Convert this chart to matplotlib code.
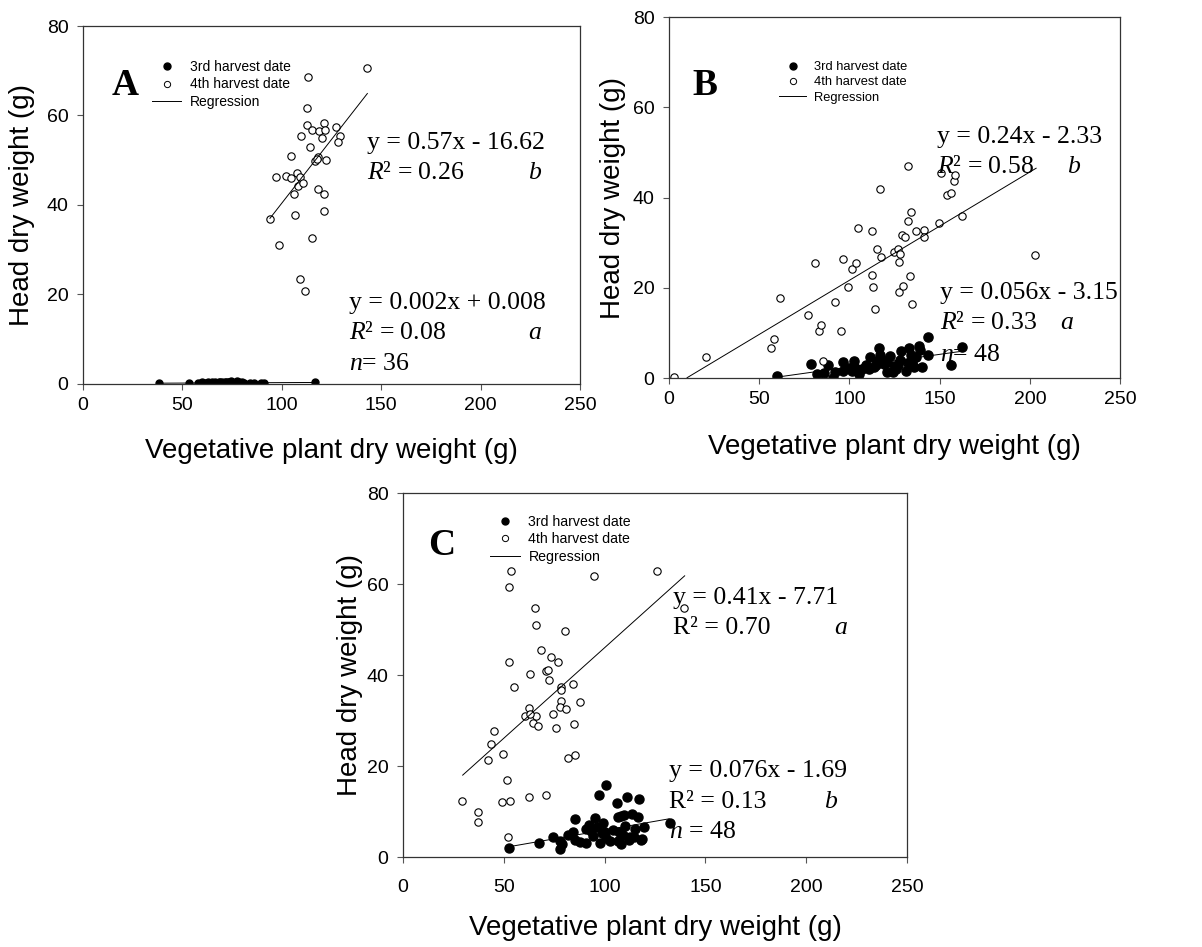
import matplotlib
matplotlib.use("Agg")
import matplotlib.pyplot as plt
from matplotlib.lines import Line2D
from matplotlib.transforms import Bbox

plt.rcParams['font.family'] = ['Liberation Sans', 'DejaVu Sans']
plt.rcParams['mathtext.fontset'] = 'custom'
plt.rcParams['mathtext.rm'] = 'Liberation Serif'
plt.rcParams['mathtext.it'] = 'Liberation Serif:italic'

SERIF = ['Liberation Serif', 'DejaVu Serif']

# ---- panel A data ----
a3_x = [38, 53.5, 58, 59.5, 60, 61, 62, 63, 64, 65, 66, 66.5, 67.5, 68, 68.5, 69, 70,
        70.5, 71.5, 72, 73, 73.5, 74.5, 75, 76, 77, 77.5, 78.5, 79, 80, 81, 84, 86,
        89.5, 91, 116.5]
a3_y = [0.1, 0.15, 0.2, 0.1, 0.3, 0.2, 0.15, 0.25, 0.2, 0.3, 0.1, 0.35, 0.2, 0.15,
        0.3, 0.25, 0.4, 0.2, 0.3, 0.45, 0.25, 0.35, 0.5, 0.3, 0.2, 0.4, 0.6, 0.3, 0.2,
        0.25, 0.15, 0.2, 0.1, 0.2, 0.15, 0.3]
a4_x = [142.7, 113.3, 112.7, 121.1, 112.8, 115.4, 118.9, 121.9, 127.4, 109.5, 120.4,
        129.1, 128.1, 114.0, 104.8, 118.0, 116.9, 122.1, 96.9, 101.9, 107.5, 104.8,
        109.2, 108.3, 106.1, 118.2, 121.4, 94.1, 106.6, 121.4, 115.0, 98.6, 109.0,
        111.7, 117.5, 110.5]
a4_y = [70.6, 68.5, 61.6, 58.4, 57.9, 56.8, 56.6, 56.8, 57.5, 55.3, 55.0, 55.5, 54.1,
        53.0, 50.9, 50.7, 49.8, 50.1, 46.2, 46.4, 47.2, 45.9, 46.3, 44.3, 42.4, 43.6,
        42.4, 36.8, 37.7, 38.6, 32.5, 31.1, 23.5, 20.6, 50.3, 44.8]
a3_fit_x = [38, 117]
a3_fit_y = [0.08, 0.24]
a4_fit_x = [94, 143]
a4_fit_y = [36.96, 64.9]

# ---- panel B data ----
b3_x = [59.6, 78.8, 82.0, 87.9, 90.8, 92.1, 96.6, 96.4, 101.4, 102.8, 105.4, 102.3,
        109.3, 111.4, 110.6, 113.4, 115.2, 116.2, 116.8, 114.7, 117.8, 120.8, 122.3,
        121.1, 124.1, 124.9, 126.7, 128.7, 131.5, 132.3, 133.0, 134.1, 134.9, 138.7,
        139.1, 140.2, 143.8, 143.8, 156.5, 162.4, 135.6, 127.8, 86, 107, 119, 126,
        137, 100]
b3_y = [0.5, 3.2, 0.8, 2.8, 0.1, 1.4, 3.5, 1.5, 1.6, 3.8, 1.0, 2.6, 3.0, 4.7, 1.9,
        2.5, 3.8, 6.6, 5.0, 2.9, 4.0, 3.5, 4.8, 1.4, 1.3, 2.7, 3.0, 6.1, 1.6, 3.4, 6.7,
        5.0, 3.6, 7.2, 6.2, 2.5, 9.2, 5.1, 3.0, 6.8, 2.5, 4.0, 1.2, 2.0, 3.2, 1.9, 4.6,
        2.3]
b4_x = [2.8, 20.7, 56.4, 58.1, 61.4, 76.8, 80.7, 83.4, 84.2, 85.3, 92.1, 95.6, 96.4,
        99.3, 101.6, 103.6, 104.5, 112.3, 112.9, 112.6, 114.3, 115.2, 117.1, 117.5,
        124.9, 127.1, 127.8, 127.4, 127.6, 129.7, 129.3, 130.6, 132.3, 132.6, 133.6,
        134.1, 134.9, 137.1, 141.3, 141.5, 149.7, 154.3, 156.1, 157.8, 158.5, 162.4,
        203.1, 151]
b4_y = [0.2, 4.7, 6.7, 8.6, 17.7, 14.0, 25.6, 10.4, 11.7, 3.8, 16.8, 10.5, 26.4, 20.1,
        24.1, 25.4, 33.2, 22.8, 20.2, 32.6, 15.3, 28.7, 42.0, 26.9, 28.0, 28.7, 27.5,
        25.7, 19.1, 20.5, 31.8, 31.2, 34.8, 47.1, 22.7, 36.9, 16.5, 32.5, 32.8, 31.2,
        34.4, 40.6, 41.1, 43.7, 45.0, 35.8, 27.2, 45.4]
b3_fit_x = [60, 162]
b3_fit_y = [0.21, 5.92]
b4_fit_x = [10, 203.5]
b4_fit_y = [0.07, 46.5]

# ---- panel C data ----
c3_x = [52.7, 67.4, 74.5, 77.8, 77.9, 79.1, 84.4, 85.4, 85.4, 90.7, 91.0, 93.3, 95.1,
        96.3, 97.1, 97.6, 98.5, 100.6, 100.9, 102.6, 105.9, 106.4, 106.4, 106.9, 107.9,
        109.5, 109.2, 111.0, 112.2, 112.8, 113.6, 114.6, 116.6, 117.1, 117.8, 118.6,
        119.4, 132.3, 100.4, 82, 88, 94, 99, 104, 108, 110, 115, 92]
c3_y = [1.9, 3.1, 4.5, 3.5, 1.8, 2.9, 5.4, 8.3, 3.7, 3.1, 6.2, 5.8, 8.6, 6.7, 13.7, 3.0,
        5.3, 15.8, 4.1, 3.5, 11.9, 8.9, 3.5, 5.6, 9.0, 9.2, 4.8, 13.3, 3.7, 4.5, 9.5,
        4.3, 8.7, 12.8, 3.7, 4.0, 6.7, 7.5, 5.6, 4.8, 3.2, 4.6, 7.4, 6.0, 2.9, 6.8, 6.1,
        7.0]
c4_x = [53.4, 52.7, 94.7, 125.9, 139.6, 65.4, 66.1, 80.3, 68.4, 73.3, 76.8, 52.4, 62.9,
        70.9, 71.9, 72.4, 54.8, 78.6, 78.3, 84.2, 78.5, 77.8, 80.9, 87.9, 62.6, 60.3,
        65.8, 64.3, 67.0, 76.0, 84.7, 44.9, 43.8, 49.6, 42.0, 81.9, 85.4, 51.7, 29.3,
        37.0, 37.0, 48.9, 53.0, 62.5, 70.8, 52.0, 74.5, 63.0]
c4_y = [62.9, 59.3, 61.8, 62.9, 54.8, 54.8, 51.1, 49.6, 45.6, 44.0, 42.9, 42.9, 40.3,
        40.8, 41.0, 38.8, 37.4, 37.4, 36.6, 38.1, 34.4, 33.0, 32.6, 34.0, 32.7, 31.0,
        31.1, 29.5, 28.7, 28.4, 29.2, 27.8, 24.9, 22.6, 21.3, 21.8, 22.5, 16.9, 12.4,
        9.8, 7.8, 12.2, 12.4, 13.3, 13.7, 4.3, 31.5, 31.5]
c3_fit_x = [53, 132]
c3_fit_y = [2.3, 8.4]
c4_fit_x = [29.6, 139.7]
c4_fit_y = [18.0, 61.8]

x_ticks = [0, 50, 100, 150, 200, 250]
y_ticks = [0, 20, 40, 60, 80]
legend_labels = ['3rd harvest date', '4th harvest date', 'Regression']


# function to set up the frame, ticks and axis titles of one panel
def style_axes(ax, x_pad, xlab_y, ylab_x):
    ax.set_xlim(0, 250)
    ax.set_ylim(0, 80)
    ax.set_xticks(x_ticks)
    ax.set_yticks(y_ticks)
    for sp in ax.spines.values():
        sp.set_color('#333333')
        sp.set_linewidth(0.9)
    ax.tick_params(direction='out', length=4.5, width=0.8, color='#555555', labelsize=14)
    ax.tick_params(axis='x', pad=x_pad)
    ax.tick_params(axis='y', pad=6)
    ax.set_xlabel('Vegetative plant dry weight (g)', fontsize=20, va='center')
    ax.set_ylabel('Head dry weight (g)', fontsize=20, va='center')
    ax.xaxis.set_label_coords(0.5, xlab_y)
    ax.yaxis.set_label_coords(ylab_x, 0.5)


# function to draw points, fit lines and the legend of one panel
def draw_panel(ax, x3, y3, x4, y4, f3x, f3y, f4x, f4y, ms3, legend_at, legend_fs):
    ax.plot(x3, y3, 'o', color='black', markersize=ms3, linestyle='none')
    ax.plot(x4, y4, 'o', markerfacecolor='white', markeredgecolor='black',
            markeredgewidth=0.8, markersize=5.3, linestyle='none')
    ax.plot(f3x, f3y, color='black', linewidth=0.7)
    ax.plot(f4x, f4y, color='black', linewidth=0.7)
    handles = [Line2D([], [], marker='o', color='black', linestyle='none', markersize=5),
               Line2D([], [], marker='o', markerfacecolor='white', markeredgecolor='black',
                      markeredgewidth=0.7, linestyle='none', markersize=4.5),
               Line2D([], [], color='black', linewidth=0.7)]
    ax.legend(handles, legend_labels, loc='upper left', bbox_to_anchor=legend_at,
              frameon=False, fontsize=legend_fs, borderpad=0, borderaxespad=0,
              handlelength=2.1, handletextpad=0.6, labelspacing=0.25)


# function to write regression equations
def write_eq(ax, x, y, lines):
    for i, t in enumerate(lines):
        ax.text(x, y[i], t, fontsize=18.5, family=SERIF, va='center', ha='left')


fig = plt.figure(figsize=(12.02, 9.47), dpi=100)
ax_a = fig.add_axes([0.0691, 0.595, 0.4135, 0.3775])
ax_b = fig.add_axes([0.5566, 0.6008, 0.3752, 0.3812])
ax_c = fig.add_axes([0.3353, 0.0950, 0.4193, 0.3844])

# panel A
style_axes(ax_a, 5, -0.19, -0.123)
draw_panel(ax_a, a3_x, a3_y, a4_x, a4_y, a3_fit_x, a3_fit_y, a4_fit_x, a4_fit_y,
           5.0, (0.139, 0.905), 10)
ax_a.text(21.1, 66.8, 'A', fontsize=27, fontweight='bold', family=SERIF, ha='center', va='center')
write_eq(ax_a, 142.9, [53.8, 47.1], ['y = 0.57x - 16.62', r'$\mathit{R}$² = 0.26'])
ax_a.text(224, 47.1, 'b', fontsize=18.5, family=SERIF, style='italic', va='center')
write_eq(ax_a, 133.8, [18.0, 11.3, 4.4],
         ['y = 0.002x + 0.008', r'$\mathit{R}$² = 0.08', r'$\mathit{n}$= 36'])
ax_a.text(224, 11.3, 'a', fontsize=18.5, family=SERIF, style='italic', va='center')
# the lower part of panel A's axis title is hidden behind panel C in the original
lab_a = ax_a.xaxis.label
lab_a.set_clip_box(Bbox([[0, 947 - 465], [1202, 947]]))
lab_a.set_clip_on(True)

# panel B
style_axes(ax_b, 5, -0.19, -0.124)
draw_panel(ax_b, b3_x, b3_y, b4_x, b4_y, b3_fit_x, b3_fit_y, b4_fit_x, b4_fit_y,
           6.6, (0.244, 0.878), 9.3)
ax_b.text(20, 64.9, 'B', fontsize=27, fontweight='bold', family=SERIF, ha='center', va='center')
write_eq(ax_b, 148.5, [53.5, 46.8], ['y = 0.24x - 2.33', r'$\mathit{R}$² = 0.58'])
ax_b.text(220.7, 46.8, 'b', fontsize=18.5, family=SERIF, style='italic', va='center')
write_eq(ax_b, 150.4, [18.8, 12.1, 5.1],
         ['y = 0.056x - 3.15', r'$\mathit{R}$² = 0.33', r'$\mathit{n}$= 48'])
ax_b.text(217, 12.1, 'a', fontsize=18.5, family=SERIF, style='italic', va='center')

# panel C
style_axes(ax_c, 11, -0.195, -0.105)
draw_panel(ax_c, c3_x, c3_y, c4_x, c4_y, c3_fit_x, c3_fit_y, c4_fit_x, c4_fit_y,
           6.5, (0.173, 0.940), 10.2)
ax_c.text(19.2, 68.4, 'C', fontsize=27, fontweight='bold', family=SERIF, ha='center', va='center')
write_eq(ax_c, 134, [56.9, 50.3], ['y = 0.41x - 7.71', 'R² = 0.70'])
ax_c.text(214, 50.3, 'a', fontsize=18.5, family=SERIF, style='italic', va='center')
write_eq(ax_c, 132, [18.8, 12.2, 5.6],
         ['y = 0.076x - 1.69', 'R² = 0.13', r'$\mathit{n}$ = 48'])
ax_c.text(209, 12.2, 'b', fontsize=18.5, family=SERIF, style='italic', va='center')

fig.savefig('out.png', dpi=100)
